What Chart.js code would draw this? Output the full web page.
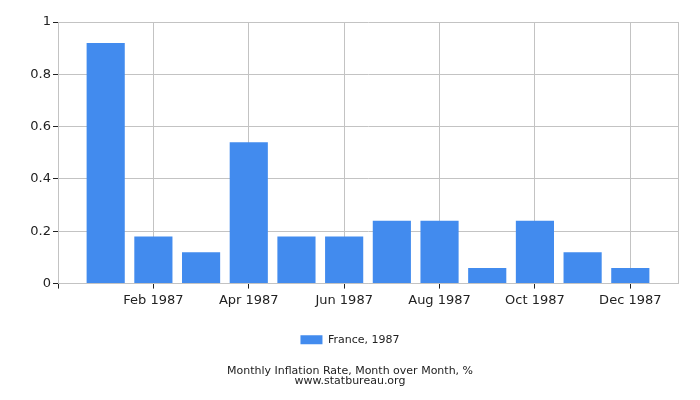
<!DOCTYPE html>
<html>
<head>
<meta charset="utf-8">
<script src="https://cdn.jsdelivr.net/npm/chart.js@4"></script>
<style>
  html, body { margin: 0; padding: 0; background: #fff; }
  #wrap { width: 700px; height: 400px; }
</style>
</head>
<body>
<div id="wrap"><canvas id="chart" width="700" height="400"></canvas></div>
<script>
const months = ["Jan 1987", "Feb 1987", "Mar 1987", "Apr 1987", "May 1987", "Jun 1987",
                "Jul 1987", "Aug 1987", "Sep 1987", "Oct 1987", "Nov 1987", "Dec 1987"]
const franceValues = [0.92, 0.18, 0.12, 0.54, 0.18, 0.18, 0.24, 0.24, 0.06, 0.24, 0.12, 0.06]
const yTicks = [0, 0.2, 0.4, 0.6, 0.8, 1]

const gridColor = "#c3c3c3"
const font = "'DejaVu Sans', sans-serif"
const clear = "rgba(0,0,0,0)"

const points = franceValues.map((v, i) => ({ x: i + 1, y: v }))

const isLabelled = v => v >= 1 && v <= 12 && v % 2 === 0
const tickVal = c => (c && c.tick) ? c.tick.value : null

new Chart("chart", {
  type: "bar",
  data: {
    datasets: [{
      label: "France, 1987",
      data: points,
      backgroundColor: "#428bee",
      borderWidth: 0,
      categoryPercentage: 0.8,
      barPercentage: 1
    }]
  },
  options: {
    responsive: false,
    devicePixelRatio: 1,
    animation: false,
    layout: { padding: { left: 0, right: 0, top: 22, bottom: 14 } },
    scales: {
      x: {
        type: "linear",
        min: 0,
        max: 13,
        offset: false,
        afterBuildTicks: s => { s.ticks = Array.from({ length: 14 }, (_, i) => ({ value: i })) },
        ticks: {
          autoSkip: false,
          maxRotation: 0,
          padding: 4,
          color: "#222",
          font: { family: font, size: 13 },
          callback: v => isLabelled(v) ? months[v - 1] : ""
        },
        grid: {
          offset: false,
          color: c => { const v = tickVal(c); return (isLabelled(v) || v === 13) ? gridColor : clear },
          tickColor: c => { const v = tickVal(c); return (isLabelled(v) || v === 0) ? "#222" : clear },
          tickLength: 5
        },
        border: { color: gridColor }
      },
      y: {
        min: 0,
        max: 1,
        afterBuildTicks: s => { s.ticks = yTicks.map(v => ({ value: v })) },
        afterFit: s => { s.width = 58 },
        ticks: {
          padding: 2,
          color: "#222",
          font: { family: font, size: 13 },
          callback: v => String(v)
        },
        grid: { color: gridColor, tickColor: "#222", tickLength: 5 },
        border: { color: gridColor }
      },
      yRight: {
        type: "linear",
        position: "right",
        afterFit: s => { s.width = 22 },
        ticks: { display: false },
        grid: { display: false, drawTicks: false },
        border: { display: false }
      }
    },
    plugins: {
      legend: {
        position: "bottom",
        labels: {
          boxWidth: 22,
          boxHeight: 9,
          padding: 22,
          color: "#222",
          font: { family: font, size: 11 }
        }
      },
      title: {
        display: true,
        position: "bottom",
        text: ["Monthly Inflation Rate, Month over Month, %", "www.statbureau.org"],
        color: "#222",
        font: { family: font, size: 11, weight: "normal", lineHeight: 0.9 },
        padding: { top: 11, bottom: 0 }
      },
      tooltip: { enabled: false }
    }
  }
})
</script>
</body>
</html>
